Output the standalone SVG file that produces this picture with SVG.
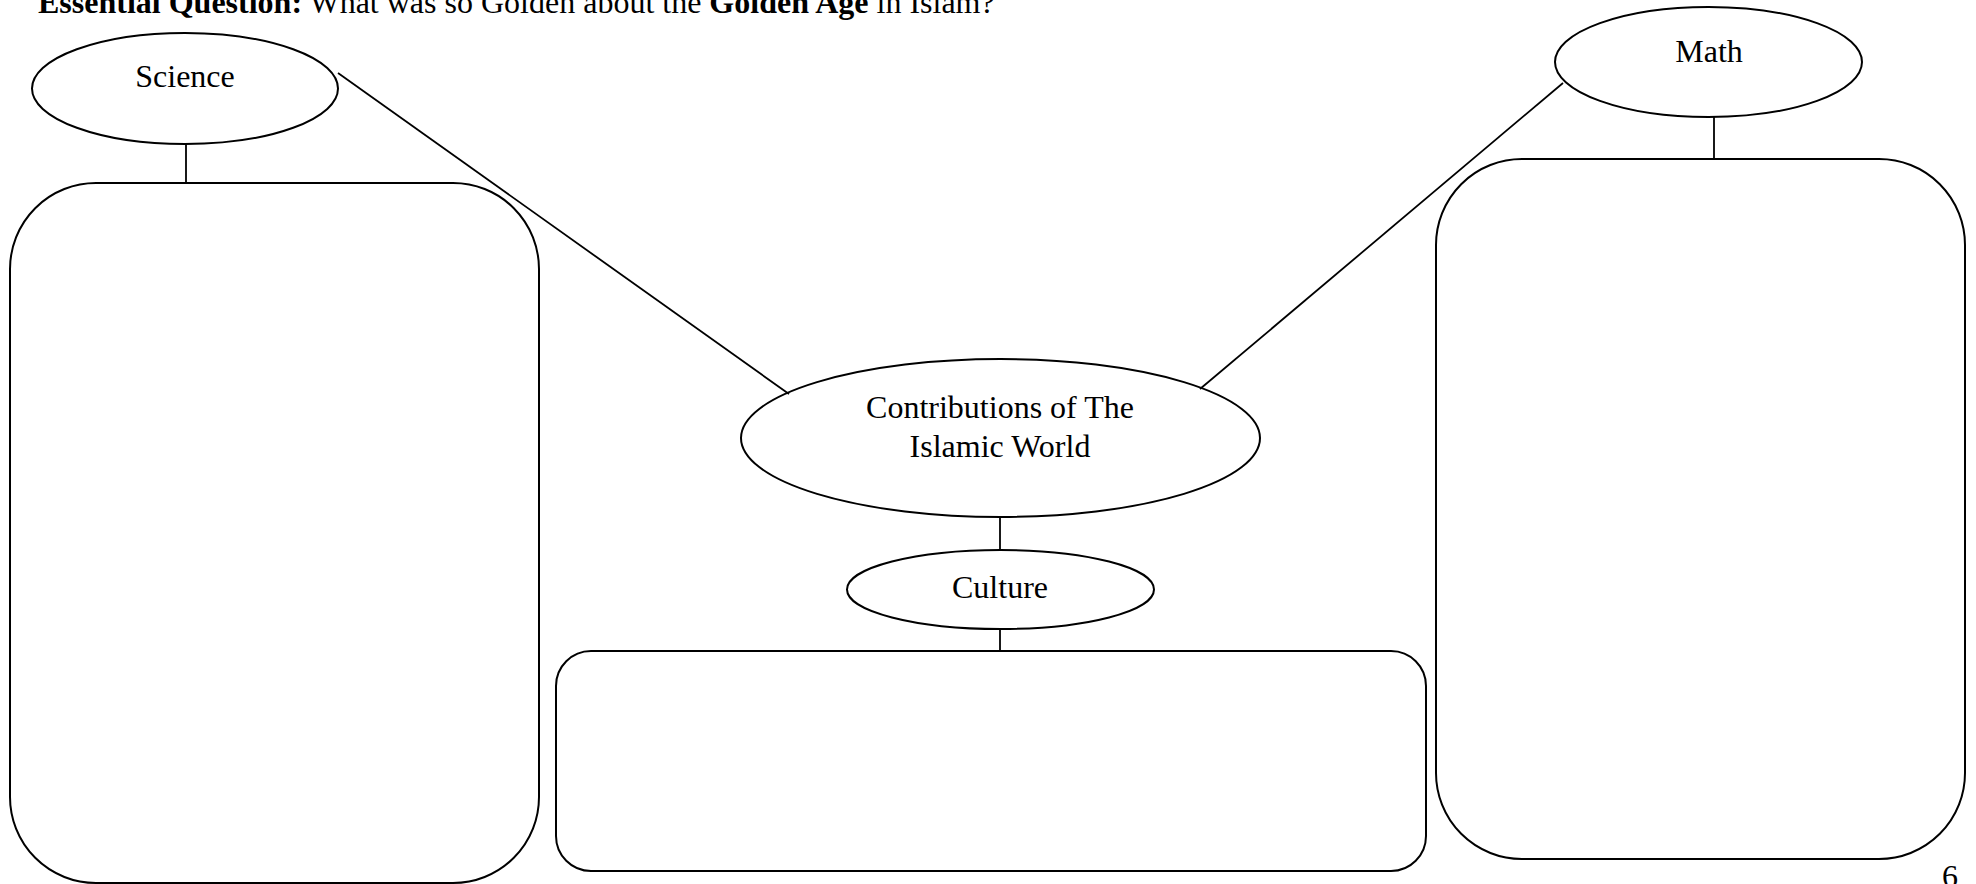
<svg xmlns="http://www.w3.org/2000/svg" width="1976" height="884" viewBox="0 0 1976 884">
<style>
  .shape { fill: none; stroke: #000; stroke-width: 2; }
  .conn { fill: none; stroke: #000; stroke-width: 1.8; }
  .lbl { font-family: "Liberation Serif", "Times New Roman", serif; font-size: 32px; fill: #000; text-anchor: middle; }
  .hdr { font-family: "Liberation Serif", "Times New Roman", serif; font-size: 32px; fill: #000; }
  .b { font-weight: bold; }
</style>
<rect x="0" y="0" width="1976" height="884" fill="#fff"/>
<text class="hdr" x="38" y="13"><tspan class="b">Essential Question:</tspan> What was so Golden about the <tspan class="b">Golden Age</tspan> in Islam?</text>
<g id="connectors">
  <line class="conn" x1="338" y1="73" x2="789" y2="394"/>
  <line class="conn" x1="1563" y1="83" x2="1200" y2="389"/>
  <line class="conn" x1="186" y1="144" x2="186" y2="183"/>
  <line class="conn" x1="1714" y1="117" x2="1714" y2="159"/>
  <line class="conn" x1="1000" y1="517" x2="1000" y2="550"/>
  <line class="conn" x1="1000" y1="629" x2="1000" y2="651"/>
</g>
<g id="science">
  <ellipse class="shape" cx="185" cy="88.5" rx="153" ry="55.5"/>
  <text class="lbl" x="185" y="87">Science</text>
</g>
<g id="science-box">
  <rect class="shape" x="10" y="183" width="529" height="700" rx="86" ry="86"/>
</g>
<g id="math">
  <ellipse class="shape" cx="1708.5" cy="62" rx="153.5" ry="55"/>
  <text class="lbl" x="1709" y="62">Math</text>
</g>
<g id="math-box">
  <rect class="shape" x="1436" y="159" width="529" height="700" rx="86" ry="86"/>
</g>
<g id="center">
  <ellipse class="shape" cx="1000.5" cy="438" rx="259.5" ry="79"/>
  <text class="lbl" x="1000" y="418">Contributions of The</text>
  <text class="lbl" x="1000" y="457">Islamic World</text>
</g>
<g id="culture">
  <ellipse class="shape" cx="1000.5" cy="589.5" rx="153.5" ry="39.5"/>
  <text class="lbl" x="1000" y="598">Culture</text>
</g>
<g id="culture-box">
  <rect class="shape" x="556" y="651" width="870" height="220" rx="35" ry="35"/>
</g>
<text class="lbl" x="1950" y="887">6</text>
</svg>
